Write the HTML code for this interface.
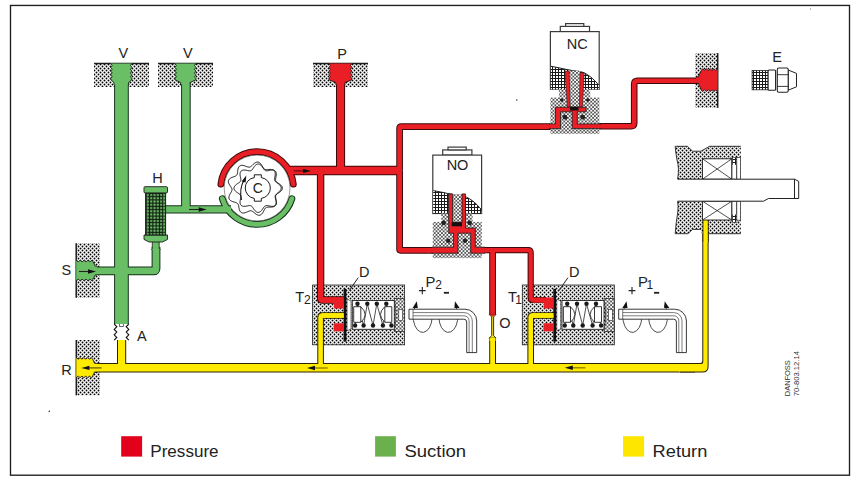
<!DOCTYPE html>
<html><head><meta charset="utf-8"><style>
html,body{margin:0;padding:0;background:#fff;width:851px;height:477px;overflow:hidden;}
svg{display:block;font-family:"Liberation Sans",sans-serif;}
</style></head><body>
<svg width="851" height="477" viewBox="0 0 851 477">
<defs>
<pattern id="chk" width="4" height="4" patternUnits="userSpaceOnUse">
 <rect width="4" height="4" fill="#fff"/><circle cx="0.5" cy="0.5" r="0.92" fill="#000"/><circle cx="2.5" cy="2.5" r="0.92" fill="#000"/><circle cx="4.5" cy="0.5" r="0.92" fill="#000"/><circle cx="0.5" cy="4.5" r="0.92" fill="#000"/><circle cx="4.5" cy="4.5" r="0.92" fill="#000"/>
</pattern>
<pattern id="dot" width="3.6" height="3.6" patternUnits="userSpaceOnUse">
 <rect width="3.6" height="3.6" fill="#fff"/><circle cx="0.9" cy="0.9" r="0.8" fill="#000"/><circle cx="2.7" cy="2.7" r="0.8" fill="#000"/>
</pattern>
<pattern id="grid" width="3" height="3" patternUnits="userSpaceOnUse">
 <rect width="3" height="3" fill="#1a1a1a"/><rect x="1" y="1" width="2" height="2" fill="#fff"/>
</pattern>
<pattern id="mesh" width="3.3" height="3.25" patternUnits="userSpaceOnUse" x="145.8" y="193">
 <rect width="3.3" height="3.25" fill="#0f1f0f"/><rect x="1.1" y="1.0" width="2.0" height="2.0" fill="#76c870"/>
</pattern>
</defs>
<rect width="851" height="477" fill="#fff"/>
<rect x="94" y="63.5" width="55" height="23.5" fill="url(#chk)"/>
<line x1="94" y1="63.5" x2="149" y2="63.5" stroke="#1c1c1c" stroke-width="1.5"/>
<rect x="158" y="63.5" width="55" height="23.5" fill="url(#chk)"/>
<line x1="158" y1="63.5" x2="213" y2="63.5" stroke="#1c1c1c" stroke-width="1.5"/>
<rect x="313" y="63.5" width="55" height="23.5" fill="url(#chk)"/>
<line x1="313" y1="63.5" x2="368" y2="63.5" stroke="#1c1c1c" stroke-width="1.5"/>
<rect x="76.2" y="243.2" width="23.799999999999997" height="54.5" fill="url(#chk)"/>
<line x1="76.2" y1="243.2" x2="76.2" y2="297.7" stroke="#1c1c1c" stroke-width="1.5"/>
<rect x="76.3" y="340" width="23.700000000000003" height="55.30000000000001" fill="url(#chk)"/>
<line x1="76.3" y1="340" x2="76.3" y2="395.3" stroke="#1c1c1c" stroke-width="1.5"/>
<rect x="695.1" y="53.1" width="22.600000000000023" height="54.699999999999996" fill="url(#chk)"/>
<line x1="717.7" y1="53.1" x2="717.7" y2="107.8" stroke="#1c1c1c" stroke-width="1.5"/>
<rect x="312.6" y="285" width="92" height="59.8" fill="url(#chk)" stroke="#222" stroke-width="0.8"/>
<rect x="522.3" y="285" width="92" height="59.8" fill="url(#chk)" stroke="#222" stroke-width="0.8"/>
<path d="M121.45,76.00 L121.45,324.00" fill="none" stroke="#14301a" stroke-width="14.7" stroke-linejoin="round" stroke-linecap="butt"/><path d="M185.90,76.00 L185.90,209.30" fill="none" stroke="#14301a" stroke-width="9.6" stroke-linejoin="round" stroke-linecap="butt"/><path d="M164.00,209.30 L231.00,209.30" fill="none" stroke="#14301a" stroke-width="8.2" stroke-linejoin="round" stroke-linecap="butt"/><path d="M92.00,270.90 L153.50,270.90 Q156.00,270.90 156.00,268.40 L156.00,247.00" fill="none" stroke="#14301a" stroke-width="8.8" stroke-linejoin="round" stroke-linecap="butt"/><path d="M291.91,198.64 A36.4,36.4 0 0,1 222.29,198.64" fill="none" stroke="#14301a" stroke-width="6.8" stroke-linejoin="round" stroke-linecap="round"/><path d="M220.90,184.20 A36.4,36.4 0 0,1 293.30,184.20" fill="none" stroke="#3c0a0a" stroke-width="6.8" stroke-linejoin="round" stroke-linecap="round"/><path d="M340.55,76.00 L340.55,170.70" fill="none" stroke="#3c0a0a" stroke-width="9.1" stroke-linejoin="round" stroke-linecap="butt"/><path d="M288.00,170.60 L399.60,170.60" fill="none" stroke="#3c0a0a" stroke-width="9.5" stroke-linejoin="round" stroke-linecap="butt"/><path d="M399.60,170.70 L399.60,128.55 Q399.60,126.55 401.60,126.55 L556.00,126.55" fill="none" stroke="#3c0a0a" stroke-width="6.7" stroke-linejoin="round" stroke-linecap="butt"/><path d="M399.60,170.70 L399.60,249.25 Q399.60,250.25 400.60,250.25 L455.00,250.25" fill="none" stroke="#3c0a0a" stroke-width="6.75" stroke-linejoin="round" stroke-linecap="butt"/><path d="M320.60,170.70 L320.60,298.50 Q320.60,300.00 322.10,300.00 L345.00,300.00" fill="none" stroke="#3c0a0a" stroke-width="7.4" stroke-linejoin="round" stroke-linecap="butt"/><path d="M596.00,126.20 L631.00,126.20 Q634.20,126.20 634.20,123.00 L634.20,84.00 Q634.20,80.80 637.40,80.80 L699.00,80.80" fill="none" stroke="#3c0a0a" stroke-width="6.6" stroke-linejoin="round" stroke-linecap="butt"/><path d="M474.00,250.20 L528.20,250.20 Q530.70,250.20 530.70,252.70 L530.70,297.50 Q530.70,300.00 533.20,300.00 L546.00,300.00" fill="none" stroke="#3c0a0a" stroke-width="6.2" stroke-linejoin="round" stroke-linecap="butt"/><path d="M492.60,250.20 L492.60,314.50" fill="none" stroke="#3c0a0a" stroke-width="6.8" stroke-linejoin="round" stroke-linecap="butt"/><path d="M94.00,367.75 L695.00,367.75" fill="none" stroke="#2a2400" stroke-width="9.3" stroke-linejoin="round" stroke-linecap="butt"/><path d="M121.60,339.00 L121.60,367.70" fill="none" stroke="#2a2400" stroke-width="9.2" stroke-linejoin="round" stroke-linecap="butt"/><path d="M345.00,315.50 L322.60,315.50 Q320.60,315.50 320.60,317.50 L320.60,367.70" fill="none" stroke="#2a2400" stroke-width="6.6" stroke-linejoin="round" stroke-linecap="butt"/><path d="M555.00,315.50 L532.70,315.50 Q530.70,315.50 530.70,317.50 L530.70,367.70" fill="none" stroke="#2a2400" stroke-width="6.6" stroke-linejoin="round" stroke-linecap="butt"/><path d="M492.60,338.00 L492.60,367.70" fill="none" stroke="#2a2400" stroke-width="6.8" stroke-linejoin="round" stroke-linecap="butt"/>
<path d="M121.45,76.00 L121.45,324.00" fill="none" stroke="#6abf66" stroke-width="12.7" stroke-linejoin="round" stroke-linecap="butt"/><path d="M185.90,76.00 L185.90,209.30" fill="none" stroke="#6abf66" stroke-width="7.6" stroke-linejoin="round" stroke-linecap="butt"/><path d="M164.00,209.30 L231.00,209.30" fill="none" stroke="#6abf66" stroke-width="6.2" stroke-linejoin="round" stroke-linecap="butt"/><path d="M92.00,270.90 L153.50,270.90 Q156.00,270.90 156.00,268.40 L156.00,247.00" fill="none" stroke="#6abf66" stroke-width="6.8" stroke-linejoin="round" stroke-linecap="butt"/><path d="M291.91,198.64 A36.4,36.4 0 0,1 222.29,198.64" fill="none" stroke="#6abf66" stroke-width="4.8" stroke-linejoin="round" stroke-linecap="round"/><path d="M220.90,184.20 A36.4,36.4 0 0,1 293.30,184.20" fill="none" stroke="#ea1f26" stroke-width="4.8" stroke-linejoin="round" stroke-linecap="round"/><path d="M340.55,76.00 L340.55,170.70" fill="none" stroke="#ea1f26" stroke-width="7.1" stroke-linejoin="round" stroke-linecap="butt"/><path d="M288.00,170.60 L399.60,170.60" fill="none" stroke="#ea1f26" stroke-width="7.5" stroke-linejoin="round" stroke-linecap="butt"/><path d="M399.60,170.70 L399.60,128.55 Q399.60,126.55 401.60,126.55 L556.00,126.55" fill="none" stroke="#ea1f26" stroke-width="4.7" stroke-linejoin="round" stroke-linecap="butt"/><path d="M399.60,170.70 L399.60,249.25 Q399.60,250.25 400.60,250.25 L455.00,250.25" fill="none" stroke="#ea1f26" stroke-width="4.75" stroke-linejoin="round" stroke-linecap="butt"/><path d="M320.60,170.70 L320.60,298.50 Q320.60,300.00 322.10,300.00 L345.00,300.00" fill="none" stroke="#ea1f26" stroke-width="5.4" stroke-linejoin="round" stroke-linecap="butt"/><path d="M596.00,126.20 L631.00,126.20 Q634.20,126.20 634.20,123.00 L634.20,84.00 Q634.20,80.80 637.40,80.80 L699.00,80.80" fill="none" stroke="#ea1f26" stroke-width="4.6" stroke-linejoin="round" stroke-linecap="butt"/><path d="M474.00,250.20 L528.20,250.20 Q530.70,250.20 530.70,252.70 L530.70,297.50 Q530.70,300.00 533.20,300.00 L546.00,300.00" fill="none" stroke="#ea1f26" stroke-width="4.2" stroke-linejoin="round" stroke-linecap="butt"/><path d="M492.60,250.20 L492.60,314.50" fill="none" stroke="#ea1f26" stroke-width="4.8" stroke-linejoin="round" stroke-linecap="butt"/><path d="M94.00,367.75 L695.00,367.75" fill="none" stroke="#ffeb00" stroke-width="7.3" stroke-linejoin="round" stroke-linecap="butt"/><path d="M121.60,339.00 L121.60,367.70" fill="none" stroke="#ffeb00" stroke-width="7.2" stroke-linejoin="round" stroke-linecap="butt"/><path d="M345.00,315.50 L322.60,315.50 Q320.60,315.50 320.60,317.50 L320.60,367.70" fill="none" stroke="#ffeb00" stroke-width="4.6" stroke-linejoin="round" stroke-linecap="butt"/><path d="M555.00,315.50 L532.70,315.50 Q530.70,315.50 530.70,317.50 L530.70,367.70" fill="none" stroke="#ffeb00" stroke-width="4.6" stroke-linejoin="round" stroke-linecap="butt"/><path d="M492.60,338.00 L492.60,367.70" fill="none" stroke="#ffeb00" stroke-width="4.8" stroke-linejoin="round" stroke-linecap="butt"/>
<path d="M680,363.1 H700.3 Q702.3,363.1 702.3,361.1 V221 H708.6 V366.4 Q708.6,372.4 702.6,372.4 H680 Z" fill="#2a2400"/>
<path d="M679,364.1 H701.3 Q703.3,364.1 703.3,362.1 V220 H707.6 V366.4 Q707.6,371.4 702.6,371.4 H679 Z" fill="#ffeb00"/>
<path d="M110.60,63.60 L112.20,65.46 L110.60,67.33 L112.20,69.19 L110.60,71.05 L112.20,72.91 L110.60,74.78 L112.20,76.64 L110.60,78.50 L111.10,80.00 L113.95,82.50 L113.95,84.50 L128.65,84.50 L128.65,82.50 L131.50,80.00 L132.00,78.50 L130.40,76.64 L132.00,74.78 L130.40,72.91 L132.00,71.05 L130.40,69.19 L132.00,67.33 L130.40,65.46 L132.00,63.60 Z" fill="#6abf66"/>
<path d="M110.60,63.60 L112.20,65.46 L110.60,67.33 L112.20,69.19 L110.60,71.05 L112.20,72.91 L110.60,74.78 L112.20,76.64 L110.60,78.50 L111.10,80.00 L113.95,82.50 L113.95,84.50 M128.65,84.50 L128.65,82.50 L131.50,80.00 L132.00,78.50 L130.40,76.64 L132.00,74.78 L130.40,72.91 L132.00,71.05 L130.40,69.19 L132.00,67.33 L130.40,65.46 L132.00,63.60" fill="none" stroke="#1c1c1c" stroke-width="0.9"/>
<path d="M174.80,63.60 L176.40,65.46 L174.80,67.33 L176.40,69.19 L174.80,71.05 L176.40,72.91 L174.80,74.78 L176.40,76.64 L174.80,78.50 L175.30,80.00 L180.70,82.50 L180.70,84.50 L190.10,84.50 L190.10,82.50 L195.50,80.00 L196.00,78.50 L194.40,76.64 L196.00,74.78 L194.40,72.91 L196.00,71.05 L194.40,69.19 L196.00,67.33 L194.40,65.46 L196.00,63.60 Z" fill="#6abf66"/>
<path d="M174.80,63.60 L176.40,65.46 L174.80,67.33 L176.40,69.19 L174.80,71.05 L176.40,72.91 L174.80,74.78 L176.40,76.64 L174.80,78.50 L175.30,80.00 L180.70,82.50 L180.70,84.50 M190.10,84.50 L190.10,82.50 L195.50,80.00 L196.00,78.50 L194.40,76.64 L196.00,74.78 L194.40,72.91 L196.00,71.05 L194.40,69.19 L196.00,67.33 L194.40,65.46 L196.00,63.60" fill="none" stroke="#1c1c1c" stroke-width="0.9"/>
<path d="M328.80,63.60 L330.40,65.46 L328.80,67.33 L330.40,69.19 L328.80,71.05 L330.40,72.91 L328.80,74.78 L330.40,76.64 L328.80,78.50 L329.30,80.00 L335.85,82.50 L335.85,84.50 L344.95,84.50 L344.95,82.50 L351.50,80.00 L352.00,78.50 L350.40,76.64 L352.00,74.78 L350.40,72.91 L352.00,71.05 L350.40,69.19 L352.00,67.33 L350.40,65.46 L352.00,63.60 Z" fill="#ea1f26"/>
<path d="M328.80,63.60 L330.40,65.46 L328.80,67.33 L330.40,69.19 L328.80,71.05 L330.40,72.91 L328.80,74.78 L330.40,76.64 L328.80,78.50 L329.30,80.00 L335.85,82.50 L335.85,84.50 M344.95,84.50 L344.95,82.50 L351.50,80.00 L352.00,78.50 L350.40,76.64 L352.00,74.78 L350.40,72.91 L352.00,71.05 L350.40,69.19 L352.00,67.33 L350.40,65.46 L352.00,63.60" fill="none" stroke="#1c1c1c" stroke-width="0.9"/>
<path d="M76.20,260.25 L78.15,261.85 L80.10,260.25 L82.05,261.85 L84.00,260.25 L85.95,261.85 L87.90,260.25 L89.85,261.85 L91.80,260.25 L93.00,261.75 L95.20,266.10 L97.20,266.10 L97.20,274.90 L95.20,274.90 L93.00,279.25 L91.80,280.75 L89.85,279.15 L87.90,280.75 L85.95,279.15 L84.00,280.75 L82.05,279.15 L80.10,280.75 L78.15,279.15 L76.20,280.75 Z" fill="#6abf66"/>
<path d="M76.20,260.25 L78.15,261.85 L80.10,260.25 L82.05,261.85 L84.00,260.25 L85.95,261.85 L87.90,260.25 L89.85,261.85 L91.80,260.25 L93.00,261.75 L95.20,266.10 L97.20,266.10 M97.20,274.90 L95.20,274.90 L93.00,279.25 L91.80,280.75 L89.85,279.15 L87.90,280.75 L85.95,279.15 L84.00,280.75 L82.05,279.15 L80.10,280.75 L78.15,279.15 L76.20,280.75" fill="none" stroke="#1c1c1c" stroke-width="0.9"/>
<path d="M76.30,357.60 L78.19,359.20 L80.08,357.60 L81.96,359.20 L83.85,357.60 L85.74,359.20 L87.62,357.60 L89.51,359.20 L91.40,357.60 L92.60,359.10 L94.50,363.25 L96.50,363.25 L96.50,372.05 L94.50,372.05 L92.60,376.20 L91.40,377.70 L89.51,376.10 L87.62,377.70 L85.74,376.10 L83.85,377.70 L81.96,376.10 L80.08,377.70 L78.19,376.10 L76.30,377.70 Z" fill="#ffeb00"/>
<path d="M76.30,357.60 L78.19,359.20 L80.08,357.60 L81.96,359.20 L83.85,357.60 L85.74,359.20 L87.62,357.60 L89.51,359.20 L91.40,357.60 L92.60,359.10 L94.50,363.25 L96.50,363.25 M96.50,372.05 L94.50,372.05 L92.60,376.20 L91.40,377.70 L89.51,376.10 L87.62,377.70 L85.74,376.10 L83.85,377.70 L81.96,376.10 L80.08,377.70 L78.19,376.10 L76.30,377.70" fill="none" stroke="#1c1c1c" stroke-width="0.9"/>
<path d="M717.70,68.75 L715.81,70.35 L713.93,68.75 L712.04,70.35 L710.15,68.75 L708.26,70.35 L706.38,68.75 L704.49,70.35 L702.60,68.75 L701.40,70.25 L698.20,76.90 L696.20,76.90 L696.20,83.30 L698.20,83.30 L701.40,89.95 L702.60,91.45 L704.49,89.85 L706.38,91.45 L708.26,89.85 L710.15,91.45 L712.04,89.85 L713.93,91.45 L715.81,89.85 L717.70,91.45 Z" fill="#ea1f26"/>
<path d="M717.70,68.75 L715.81,70.35 L713.93,68.75 L712.04,70.35 L710.15,68.75 L708.26,70.35 L706.38,68.75 L704.49,70.35 L702.60,68.75 L701.40,70.25 L698.20,76.90 L696.20,76.90 M696.20,83.30 L698.20,83.30 L701.40,89.95 L702.60,91.45 L704.49,89.85 L706.38,91.45 L708.26,89.85 L710.15,91.45 L712.04,89.85 L713.93,91.45 L715.81,89.85 L717.70,91.45" fill="none" stroke="#1c1c1c" stroke-width="0.9"/>
<path d="M152.3,241 H159.2 V248.5 L160.4,250 H151.6 L152.3,248.5 Z" fill="#6abf66"/>
<path d="M152.3,241 V248.5 L151.6,250 M159.2,241 V248.5 L160.4,250" fill="none" stroke="#1c1c1c" stroke-width="0.8"/>
<path d="M144,235 H167.5 V239.4 L162.5,242 H149 L144,239.4 Z" fill="#6abf66" stroke="#1c1c1c" stroke-width="0.9"/>
<rect x="145.6" y="192.9" width="20" height="42.1" fill="url(#mesh)" stroke="#1c1c1c" stroke-width="1"/>
<path d="M147.3,193 V235 M163.9,193 V235" stroke="#5aa055" stroke-width="0.6"/>
<rect x="144" y="186.7" width="23.5" height="6.2" rx="1" fill="#6abf66" stroke="#1c1c1c" stroke-width="0.9"/>
<circle cx="257.1" cy="188" r="32.9" fill="none" stroke="#555" stroke-width="0.6"/>
<path d="M281.09,188.80 L280.85,189.50 L280.48,190.18 L280.00,190.83 L279.43,191.45 L278.81,192.04 L278.16,192.59 L277.52,193.12 L276.91,193.63 L276.37,194.12 L275.91,194.62 L275.56,195.13 L275.31,195.66 L275.18,196.23 L275.16,196.84 L275.22,197.51 L275.36,198.22 L275.55,198.98 L275.75,199.78 L275.95,200.61 L276.12,201.45 L276.22,202.29 L276.23,203.11 L276.15,203.88 L275.94,204.59 L275.61,205.23 L275.16,205.78 L274.60,206.22 L273.94,206.57 L273.19,206.82 L272.39,206.99 L271.54,207.07 L270.68,207.11 L269.83,207.11 L269.01,207.09 L268.24,207.10 L267.53,207.15 L266.89,207.26 L266.31,207.45 L265.80,207.73 L265.35,208.12 L264.95,208.61 L264.59,209.19 L264.24,209.85 L263.89,210.57 L263.53,211.32 L263.14,212.09 L262.71,212.83 L262.23,213.51 L261.70,214.12 L261.12,214.61 L260.49,214.98 L259.81,215.21 L259.11,215.29 L258.39,215.22 L257.65,215.02 L256.92,214.70 L256.20,214.27 L255.51,213.77 L254.84,213.24 L254.20,212.69 L253.59,212.17 L253.00,211.70 L252.43,211.30 L251.87,211.01 L251.30,210.82 L250.72,210.75 L250.12,210.80 L249.49,210.94 L248.83,211.18 L248.12,211.48 L247.38,211.82 L246.61,212.16 L245.81,212.49 L245.00,212.75 L244.20,212.94 L243.41,213.03 L242.66,212.99 L241.96,212.83 L241.32,212.52 L240.75,212.09 L240.27,211.53 L239.86,210.87 L239.54,210.13 L239.29,209.33 L239.09,208.49 L238.93,207.65 L238.80,206.83 L238.66,206.05 L238.51,205.34 L238.31,204.69 L238.04,204.13 L237.70,203.65 L237.27,203.26 L236.76,202.93 L236.15,202.65 L235.46,202.41 L234.71,202.20 L233.91,201.98 L233.09,201.73 L232.28,201.45 L231.50,201.12 L230.79,200.73 L230.17,200.26 L229.65,199.73 L229.26,199.13 L229.02,198.47 L228.91,197.76 L228.94,197.01 L229.09,196.24 L229.36,195.46 L229.70,194.68 L230.10,193.92 L230.53,193.19 L230.95,192.48 L231.33,191.81 L231.65,191.17 L231.87,190.56 L232.00,189.96 L232.00,189.38 L231.89,188.80 L231.67,188.21 L231.35,187.60 L230.95,186.97 L230.50,186.31 L230.03,185.62 L229.57,184.90 L229.14,184.16 L228.78,183.40 L228.53,182.64 L228.39,181.88 L228.38,181.15 L228.52,180.46 L228.80,179.81 L229.22,179.21 L229.77,178.68 L230.41,178.21 L231.14,177.80 L231.92,177.45 L232.72,177.14 L233.51,176.85 L234.27,176.59 L234.97,176.31 L235.60,176.02 L236.14,175.68 L236.58,175.28 L236.93,174.81 L237.19,174.27 L237.38,173.65 L237.51,172.96 L237.60,172.20 L237.67,171.39 L237.76,170.54 L237.88,169.69 L238.05,168.86 L238.29,168.07 L238.61,167.34 L239.02,166.71 L239.51,166.19 L240.10,165.78 L240.75,165.51 L241.48,165.37 L242.25,165.35 L243.06,165.44 L243.88,165.62 L244.70,165.87 L245.51,166.15 L246.28,166.45 L247.03,166.72 L247.73,166.94 L248.38,167.09 L249.00,167.14 L249.58,167.08 L250.14,166.91 L250.69,166.63 L251.23,166.24 L251.78,165.76 L252.34,165.22 L252.93,164.64 L253.55,164.05 L254.20,163.49 L254.88,162.98 L255.58,162.56 L256.29,162.25 L257.01,162.08 L257.72,162.04 L258.42,162.16 L259.09,162.42 L259.72,162.82 L260.31,163.34 L260.86,163.96 L261.36,164.64 L261.81,165.37 L262.24,166.11 L262.64,166.82 L263.03,167.49 L263.42,168.08 L263.84,168.59 L264.29,168.99 L264.80,169.29 L265.35,169.48 L265.98,169.58 L266.66,169.61 L267.41,169.58 L268.20,169.52 L269.04,169.46 L269.90,169.42 L270.75,169.42 L271.59,169.49 L272.37,169.65 L273.10,169.90 L273.73,170.27 L274.26,170.73 L274.69,171.30 L274.99,171.96 L275.18,172.70 L275.27,173.50 L275.26,174.33 L275.17,175.18 L275.04,176.03 L274.89,176.85 L274.74,177.65 L274.63,178.39 L274.57,179.08 L274.60,179.72 L274.72,180.30 L274.95,180.84 L275.29,181.33 L275.73,181.80 L276.27,182.26 L276.88,182.72 L277.54,183.20 L278.23,183.69 L278.91,184.22 L279.54,184.79 L280.11,185.39 L280.58,186.03 L280.92,186.70 L281.13,187.39 L281.19,188.09 Z" fill="none" stroke="#111" stroke-width="0.95"/>
<path d="M282.40,188.20 L282.33,188.83 L282.14,189.45 L281.83,190.06 L281.41,190.64 L280.90,191.19 L280.33,191.70 L279.71,192.19 L279.06,192.63 L278.42,193.05 L277.81,193.45 L277.24,193.84 L276.74,194.22 L276.32,194.62 L275.99,195.03 L275.75,195.47 L275.61,195.95 L275.55,196.48 L275.57,197.05 L275.65,197.68 L275.78,198.35 L275.93,199.07 L276.09,199.82 L276.23,200.59 L276.32,201.37 L276.37,202.14 L276.34,202.89 L276.22,203.59 L276.02,204.24 L275.71,204.82 L275.31,205.31 L274.82,205.71 L274.24,206.02 L273.59,206.22 L272.89,206.34 L272.14,206.37 L271.37,206.32 L270.59,206.23 L269.82,206.09 L269.07,205.93 L268.35,205.78 L267.68,205.65 L267.05,205.57 L266.48,205.55 L265.95,205.61 L265.47,205.75 L265.03,205.99 L264.62,206.32 L264.22,206.74 L263.84,207.24 L263.45,207.81 L263.05,208.42 L262.63,209.06 L262.19,209.71 L261.70,210.33 L261.19,210.90 L260.64,211.41 L260.06,211.83 L259.45,212.14 L258.83,212.33 L258.20,212.40 L257.57,212.33 L256.95,212.14 L256.34,211.83 L255.76,211.41 L255.21,210.90 L254.70,210.33 L254.21,209.71 L253.77,209.06 L253.35,208.42 L252.95,207.81 L252.56,207.24 L252.18,206.74 L251.78,206.32 L251.37,205.99 L250.93,205.75 L250.45,205.61 L249.92,205.55 L249.35,205.57 L248.72,205.65 L248.05,205.78 L247.33,205.93 L246.58,206.09 L245.81,206.23 L245.03,206.32 L244.26,206.37 L243.51,206.34 L242.81,206.22 L242.16,206.02 L241.58,205.71 L241.09,205.31 L240.69,204.82 L240.38,204.24 L240.18,203.59 L240.06,202.89 L240.03,202.14 L240.08,201.37 L240.17,200.59 L240.31,199.82 L240.47,199.07 L240.62,198.35 L240.75,197.68 L240.83,197.05 L240.85,196.48 L240.79,195.95 L240.65,195.47 L240.41,195.03 L240.08,194.62 L239.66,194.22 L239.16,193.84 L238.59,193.45 L237.98,193.05 L237.34,192.63 L236.69,192.19 L236.07,191.70 L235.50,191.19 L234.99,190.64 L234.57,190.06 L234.26,189.45 L234.07,188.83 L234.00,188.20 L234.07,187.57 L234.26,186.95 L234.57,186.34 L234.99,185.76 L235.50,185.21 L236.07,184.70 L236.69,184.21 L237.34,183.77 L237.98,183.35 L238.59,182.95 L239.16,182.56 L239.66,182.18 L240.08,181.78 L240.41,181.37 L240.65,180.93 L240.79,180.45 L240.85,179.92 L240.83,179.35 L240.75,178.72 L240.62,178.05 L240.47,177.33 L240.31,176.58 L240.17,175.81 L240.08,175.03 L240.03,174.26 L240.06,173.51 L240.18,172.81 L240.38,172.16 L240.69,171.58 L241.09,171.09 L241.58,170.69 L242.16,170.38 L242.81,170.18 L243.51,170.06 L244.26,170.03 L245.03,170.08 L245.81,170.17 L246.58,170.31 L247.33,170.47 L248.05,170.62 L248.72,170.75 L249.35,170.83 L249.92,170.85 L250.45,170.79 L250.93,170.65 L251.37,170.41 L251.78,170.08 L252.18,169.66 L252.56,169.16 L252.95,168.59 L253.35,167.98 L253.77,167.34 L254.21,166.69 L254.70,166.07 L255.21,165.50 L255.76,164.99 L256.34,164.57 L256.95,164.26 L257.57,164.07 L258.20,164.00 L258.83,164.07 L259.45,164.26 L260.06,164.57 L260.64,164.99 L261.19,165.50 L261.70,166.07 L262.19,166.69 L262.63,167.34 L263.05,167.98 L263.45,168.59 L263.84,169.16 L264.22,169.66 L264.62,170.08 L265.03,170.41 L265.47,170.65 L265.95,170.79 L266.48,170.85 L267.05,170.83 L267.68,170.75 L268.35,170.62 L269.07,170.47 L269.82,170.31 L270.59,170.17 L271.37,170.08 L272.14,170.03 L272.89,170.06 L273.59,170.18 L274.24,170.38 L274.82,170.69 L275.31,171.09 L275.71,171.58 L276.02,172.16 L276.22,172.81 L276.34,173.51 L276.37,174.26 L276.32,175.03 L276.23,175.81 L276.09,176.58 L275.93,177.33 L275.78,178.05 L275.65,178.72 L275.57,179.35 L275.55,179.92 L275.61,180.45 L275.75,180.93 L275.99,181.37 L276.32,181.78 L276.74,182.18 L277.24,182.56 L277.81,182.95 L278.42,183.35 L279.06,183.77 L279.71,184.21 L280.33,184.70 L280.90,185.21 L281.41,185.76 L281.83,186.34 L282.14,186.95 L282.33,187.57 Z" fill="none" stroke="#111" stroke-width="0.95"/>
<path d="M254.3,177.6 V174.8 H261.3 V177.6 A10.5,10.5 0 0 1 261.3,198.4 V201.2 H254.3 V198.4 A10.5,10.5 0 0 1 254.3,177.6 Z" fill="#fff" stroke="#111" stroke-width="0.95"/>
<path d="M241.5,200 Q239,189 244,180" fill="none" stroke="#111" stroke-width="1.1"/>
<path d="M246.3,175.5 L241.6,181.5 L245.6,182.5 Z" fill="#111"/>
<text x="257.8" y="193" font-size="14" text-anchor="middle" fill="#222" >C</text>
<rect x="560.3" y="26.400000000000002" width="29.2" height="5.2" fill="#fff" stroke="#3a3a3a" stroke-width="1.2"/><rect x="565.6" y="23.6" width="18.2" height="2.8" fill="#fff" stroke="#3a3a3a" stroke-width="1.2"/><rect x="550.4" y="31.6" width="48.8" height="57.6" fill="#fff" stroke="#3a3a3a" stroke-width="1.2"/><path d="M550.9,66.3 C560.4,67.8 570.4,70.8 578.4,71.3 C586.4,71.8 594.4,79.8 598.9,85.3 V89.2 H550.9 Z" fill="url(#grid)"/><path d="M550.9,66.3 C560.4,67.8 570.4,70.8 578.4,71.3 C586.4,71.8 594.4,79.8 598.9,85.3" fill="none" stroke="#222" stroke-width="1"/><rect x="558.9" y="89.2" width="31.3" height="8.4" fill="url(#dot)"/><rect x="550.4" y="97.6" width="49" height="36.2" fill="url(#dot)"/>
<rect x="568.4" y="70.8" width="12" height="37" fill="url(#dot)"/><path d="M565.0,71.0 L569.1999999999999,71.0 L570.1999999999999,107.39999999999999 L567.3,107.39999999999999 Z" fill="#ea1f26" stroke="#1c1c1c" stroke-width="0.6"/><path d="M580.0,72.7 L584.1999999999999,72.7 L582.3,107.39999999999999 L579.4,107.39999999999999 Z" fill="#ea1f26" stroke="#1c1c1c" stroke-width="0.6"/><path d="M549.4,123.89999999999999 H555.5 V107.2 H586.1 V111.8 H577.3 V123.89999999999999 H600.4 V128.6 H572.1999999999999 V111.8 H560.5 V128.6 H549.4 Z" fill="#ea1f26" stroke="#1c1c1c" stroke-width="0.8"/><rect x="570.1" y="106.7" width="8.4" height="3.8" fill="#111"/><circle cx="565.0" cy="117.2" r="2.4" fill="#222"/><circle cx="582.6999999999999" cy="117.2" r="2.4" fill="#222"/><circle cx="561.6999999999999" cy="100.0" r="1.8" fill="#222"/><circle cx="587.8" cy="100.0" r="1.8" fill="#222"/>
<rect x="442.7" y="149.9" width="29.2" height="5.2" fill="#fff" stroke="#3a3a3a" stroke-width="1.2"/><rect x="448.0" y="147.1" width="18.2" height="2.8" fill="#fff" stroke="#3a3a3a" stroke-width="1.2"/><rect x="432.8" y="155.1" width="48.8" height="58.4" fill="#fff" stroke="#3a3a3a" stroke-width="1.2"/><path d="M433.3,190.6 C442.8,192.1 452.8,195.1 460.8,195.6 C468.8,196.1 476.8,204.1 481.3,209.6 V213.5 H433.3 Z" fill="url(#grid)"/><path d="M433.3,190.6 C442.8,192.1 452.8,195.1 460.8,195.6 C468.8,196.1 476.8,204.1 481.3,209.6" fill="none" stroke="#222" stroke-width="1"/><rect x="441.3" y="213.5" width="31.3" height="8.4" fill="url(#dot)"/><rect x="432.8" y="221.89999999999998" width="49" height="36.2" fill="url(#dot)"/>
<rect x="449.8" y="194.1" width="14" height="30" fill="url(#dot)"/><path d="M448.40000000000003,193.89999999999998 H452.6 V222.3 H462.0 V193.89999999999998 H465.5 V228.0 H475.3 V247.2 H484.8 V253.2 H470.7 V233.2 H458.0 V253.2 H431.8 V247.2 H453.40000000000003 V233.2 H448.8 Z" fill="#ea1f26" stroke="#1c1c1c" stroke-width="0.8"/><rect x="451.7" y="222.3" width="10.3" height="4" fill="#111"/><circle cx="443.6" cy="222.89999999999998" r="2.4" fill="#222"/><circle cx="469.6" cy="222.89999999999998" r="2.4" fill="#222"/><circle cx="448.2" cy="240.7" r="2.2" fill="#222"/><circle cx="465.0" cy="240.7" r="2.2" fill="#222"/>
<rect x="544" y="124.7" width="10" height="3.2" fill="#ea1f26"/><rect x="595" y="124.7" width="10" height="3.2" fill="#ea1f26"/>
<rect x="427" y="248.0" width="10" height="4.4" fill="#ea1f26"/><rect x="477" y="248.0" width="10" height="4.4" fill="#ea1f26"/>
<text x="577.3" y="49.4" font-size="14.5" text-anchor="middle" fill="#222" >NC</text>
<text x="457.5" y="169.9" font-size="14.5" text-anchor="middle" fill="#222" >NO</text>
<rect x="352.3" y="300.5" width="42" height="28.8" fill="#fff" stroke="#222" stroke-width="0.9"/><path d="M394.3,298.5 H404.6 V331.5 H394.3 Q397.5,315 394.3,298.5 Z" fill="url(#dot)" stroke="#222" stroke-width="0.7"/><rect x="398.8" y="309.5" width="3.8" height="11" fill="#fff" stroke="#222" stroke-width="0.6"/><path d="M355.10,325.50 L357.50,303.80 L363.60,325.50 L367.30,303.80 L373.00,325.50 L376.80,303.80 L382.90,325.50 L386.30,303.80 L391.40,325.50" fill="none" stroke="#222" stroke-width="0.8"/><path d="M353.7,306.7 H360.8 Q369.5,314.5 360.8,322.3 H353.7 Z M360.8,306.7 V322.3" fill="#fff" stroke="#222" stroke-width="0.9"/><path d="M391.8,306.7 H384.8 Q376.1,314.5 384.8,322.3 H391.8 Z M384.8,306.7 V322.3" fill="#fff" stroke="#222" stroke-width="0.9"/><circle cx="357.5" cy="303.8" r="2.2" fill="#1a1a1a"/><circle cx="367.3" cy="303.8" r="2.2" fill="#1a1a1a"/><circle cx="376.8" cy="303.8" r="2.2" fill="#1a1a1a"/><circle cx="386.3" cy="303.8" r="2.2" fill="#1a1a1a"/><circle cx="355.1" cy="325.5" r="2.2" fill="#1a1a1a"/><circle cx="363.6" cy="325.5" r="2.2" fill="#1a1a1a"/><circle cx="373" cy="325.5" r="2.2" fill="#1a1a1a"/><circle cx="382.9" cy="325.5" r="2.2" fill="#1a1a1a"/><circle cx="391.4" cy="325.5" r="2.2" fill="#1a1a1a"/><path d="M347.1,299 L351,301 V328.8 L347.1,330.7 Z" fill="#fff" stroke="#222" stroke-width="0.6"/><rect x="343.6" y="288.8" width="2.8" height="52.8" fill="#111"/><path d="M323,297.4 H343.8 V308.4 H334 V302.7 H323 Z" fill="#ea1f26"/><rect x="333.8" y="323.3" width="10.2" height="8" fill="#ea1f26"/><rect x="322" y="313.2" width="21.8" height="4.6" fill="#ffeb00"/><line x1="358.3" y1="277.6" x2="349.3" y2="290.5" stroke="#222" stroke-width="1"/><path d="M416,305 A9.5,16 0 1 0 431.8,312" fill="none" stroke="#222" stroke-width="0.8"/><path d="M455,305 A9.5,16 0 1 1 439.2,312" fill="none" stroke="#222" stroke-width="0.8"/><path d="M416.8,301.2 L412.6,308 L417.8,308 Z" fill="#111"/><path d="M455,301.2 L459.6,308 L454.4,308 Z" fill="#111"/><path d="M409,309.2 H465 A11.7,11.7 0 0 1 476.7,321 V352.6 H466.7 V322 A2.8,2.8 0 0 0 463.9,319.2 H409 Z" fill="#fff" stroke="#222" stroke-width="0.9"/><path d="M413,312.6 H464 A8.2,8.2 0 0 1 472.3,321 V352.6 M413,315.8 H464 A5,5 0 0 1 469.1,321 V352.6 M413,309.2 V319.2" fill="none" stroke="#222" stroke-width="0.6"/>
<rect x="562.0" y="300.5" width="42" height="28.8" fill="#fff" stroke="#222" stroke-width="0.9"/><path d="M604.0,298.5 H614.3 V331.5 H604.0 Q607.2,315 604.0,298.5 Z" fill="url(#dot)" stroke="#222" stroke-width="0.7"/><rect x="608.5" y="309.5" width="3.8" height="11" fill="#fff" stroke="#222" stroke-width="0.6"/><path d="M564.80,325.50 L567.20,303.80 L573.30,325.50 L577.00,303.80 L582.70,325.50 L586.50,303.80 L592.60,325.50 L596.00,303.80 L601.10,325.50" fill="none" stroke="#222" stroke-width="0.8"/><path d="M563.4,306.7 H570.5 Q579.2,314.5 570.5,322.3 H563.4 Z M570.5,306.7 V322.3" fill="#fff" stroke="#222" stroke-width="0.9"/><path d="M601.5,306.7 H594.5 Q585.8,314.5 594.5,322.3 H601.5 Z M594.5,306.7 V322.3" fill="#fff" stroke="#222" stroke-width="0.9"/><circle cx="567.2" cy="303.8" r="2.2" fill="#1a1a1a"/><circle cx="577.0" cy="303.8" r="2.2" fill="#1a1a1a"/><circle cx="586.5" cy="303.8" r="2.2" fill="#1a1a1a"/><circle cx="596.0" cy="303.8" r="2.2" fill="#1a1a1a"/><circle cx="564.8" cy="325.5" r="2.2" fill="#1a1a1a"/><circle cx="573.3" cy="325.5" r="2.2" fill="#1a1a1a"/><circle cx="582.7" cy="325.5" r="2.2" fill="#1a1a1a"/><circle cx="592.5999999999999" cy="325.5" r="2.2" fill="#1a1a1a"/><circle cx="601.0999999999999" cy="325.5" r="2.2" fill="#1a1a1a"/><path d="M556.8,299 L560.7,301 V328.8 L556.8,330.7 Z" fill="#fff" stroke="#222" stroke-width="0.6"/><rect x="553.3" y="288.8" width="2.8" height="52.8" fill="#111"/><path d="M532.7,297.4 H553.5 V308.4 H543.7 V302.7 H532.7 Z" fill="#ea1f26"/><rect x="543.5" y="323.3" width="10.2" height="8" fill="#ea1f26"/><rect x="531.7" y="313.2" width="21.8" height="4.6" fill="#ffeb00"/><line x1="568.0" y1="277.6" x2="559.0" y2="290.5" stroke="#222" stroke-width="1"/><path d="M625.7,305 A9.5,16 0 1 0 641.5,312" fill="none" stroke="#222" stroke-width="0.8"/><path d="M664.7,305 A9.5,16 0 1 1 648.9,312" fill="none" stroke="#222" stroke-width="0.8"/><path d="M626.5,301.2 L622.3,308 L627.5,308 Z" fill="#111"/><path d="M664.7,301.2 L669.3,308 L664.0999999999999,308 Z" fill="#111"/><path d="M618.7,309.2 H674.7 A11.7,11.7 0 0 1 686.4,321 V352.6 H676.4 V322 A2.8,2.8 0 0 0 673.5999999999999,319.2 H618.7 Z" fill="#fff" stroke="#222" stroke-width="0.9"/><path d="M622.7,312.6 H673.7 A8.2,8.2 0 0 1 682.0,321 V352.6 M622.7,315.8 H673.7 A5,5 0 0 1 678.8,321 V352.6 M622.7,309.2 V319.2" fill="none" stroke="#222" stroke-width="0.6"/>
<text x="123.3" y="57.6" font-size="14.5" text-anchor="middle" fill="#222" >V</text>
<text x="187.8" y="57.6" font-size="14.5" text-anchor="middle" fill="#222" >V</text>
<text x="342" y="59" font-size="14.5" text-anchor="middle" fill="#222" >P</text>
<text x="157.6" y="182.9" font-size="14.5" text-anchor="middle" fill="#222" >H</text>
<text x="66.3" y="275.2" font-size="14.5" text-anchor="middle" fill="#222" >S</text>
<text x="141.8" y="341.4" font-size="14.5" text-anchor="middle" fill="#222" >A</text>
<text x="66.6" y="375.2" font-size="14.5" text-anchor="middle" fill="#222" >R</text>
<text x="777.2" y="62.2" font-size="14.5" text-anchor="middle" fill="#222" >E</text>
<text x="364.3" y="276.9" font-size="14.5" text-anchor="middle" fill="#222" >D</text>
<text x="574.3" y="277.3" font-size="14.5" text-anchor="middle" fill="#222" >D</text>
<text x="504.9" y="327.5" font-size="14.5" text-anchor="middle" fill="#222" >O</text>
<text x="295.3" y="302" font-size="14.5" fill="#222">T</text><text x="303.9" y="303.7" font-size="12" fill="#222">2</text>
<text x="507.9" y="302.3" font-size="14.5" fill="#222">T</text><text x="515.2" y="304.2" font-size="12" fill="#222">1</text>
<text x="425.5" y="287.3" font-size="14.8" fill="#222">P</text><text x="435.3" y="289" font-size="12" fill="#222">2</text>
<text x="637.9" y="287.4" font-size="14.8" fill="#222">P</text><text x="646.4" y="289" font-size="12" fill="#222">1</text>
<path d="M418.90000000000003,290.6 H425.7 M422.3,286.9 V294.2" stroke="#222" stroke-width="1.1"/>
<path d="M628.6,290.6 H635.4 M632.0,286.9 V294.2" stroke="#222" stroke-width="1.1"/>
<path d="M443.8,292.8 H449.0" stroke="#222" stroke-width="1.8"/>
<path d="M654.0,292.8 H659.1999999999999" stroke="#222" stroke-width="1.8"/>
<rect x="114.2" y="324" width="14.6" height="16" fill="#fff"/>
<path d="M114.2,324 L116.8,326.7 L114.2,329.4 L116.8,332.1 L114.2,334.8 L116.8,337.5 L114.2,340.2 M128.8,324 L126.2,326.7 L128.8,329.4 L126.2,332.1 L128.8,334.8 L126.2,337.5 L128.8,340.2" fill="none" stroke="#111" stroke-width="1.1"/>
<path d="M119.5,324 V326.5 H123.4 V324" fill="none" stroke="#222" stroke-width="0.7"/>
<path d="M489.2,314.4 L491.7,317 V335.5 L489.2,338.2 H496 L493.6,335.5 V317 L496,314.4 Z" fill="#ffeb00" stroke="#1c1c1c" stroke-width="0.9"/>
<path d="M489.6,314.2 H495.6 L493.3,316.6 H491.9 Z" fill="#ea1f26"/>
<rect x="489.7" y="338" width="5.8" height="3" fill="#ffeb00"/>
<line x1="189" y1="209.5" x2="201.7" y2="209.5" stroke="#222" stroke-width="1.1"/>
<path d="M206.7,209.5 L198.7,207.3 L198.7,211.7 Z" fill="#111"/>
<line x1="293.8" y1="170.9" x2="306" y2="170.9" stroke="#5a0c0c" stroke-width="1.1"/>
<path d="M311,170.9 L303,168.70000000000002 L303,173.1 Z" fill="#111"/>
<line x1="79" y1="271.5" x2="91" y2="271.5" stroke="#222" stroke-width="1.1"/>
<path d="M96,271.5 L88,269.3 L88,273.7 Z" fill="#111"/>
<line x1="101.5" y1="367.9" x2="86.4" y2="367.9" stroke="#6b5e00" stroke-width="1.3"/>
<path d="M81.4,367.9 L89.4,365.7 L89.4,370.09999999999997 Z" fill="#111"/>
<line x1="327.7" y1="368" x2="312" y2="368" stroke="#8a7a00" stroke-width="1.3"/>
<path d="M307,368 L315,365.8 L315,370.2 Z" fill="#111"/>
<line x1="585.4" y1="367.8" x2="569.8" y2="367.8" stroke="#8a7a00" stroke-width="1.3"/>
<path d="M564.8,367.8 L572.8,365.6 L572.8,370.0 Z" fill="#111"/>
<rect x="752.1" y="70.5" width="16" height="19.3" fill="url(#grid)" stroke="#222" stroke-width="0.8"/>
<rect x="768.1" y="70" width="7.5" height="20.2" rx="1" fill="#fff" stroke="#222" stroke-width="1.1"/>
<path d="M788.2,70 L796.5,73.4 V86.8 L788.2,90.2 Z" fill="#fff" stroke="#222" stroke-width="1"/>
<rect x="777.3" y="68" width="10.9" height="24.3" rx="1.5" fill="#fff" stroke="#222" stroke-width="1.1"/>
<path d="M777.3,74.7 H788.2 M777.3,86.4 H788.2" stroke="#222" stroke-width="0.9"/>
<path d="M675.2,146.3 H687.4 L692.6,151.2 H701 L709.5,146.3 H740.8 V179.2 H677.6 Q679.5,168 677,160 Q675.5,152 675.2,146.3 Z" fill="url(#chk)"/>
<path d="M677.6,179.2 Q679.5,168 677,160 Q675.5,152 675.2,146.3 H687.4 L692.6,151.2 H701 L709.5,146.3 H740.8" fill="none" stroke="#222" stroke-width="0.9"/>
<path d="M677.6,201.2 H740.8 V233.7 H701 V229.4 H692.6 L687.9,233.7 H675.2 Q676,222 677.8,212 Q678.5,206 677.6,201.2 Z" fill="url(#chk)"/>
<path d="M675.2,233.7 H687.9 L692.6,229.4 H701 M708.7,233.7 H740.8 M675.2,233.7 Q676,222 677.8,212 Q678.5,206 677.6,201.2" fill="none" stroke="#222" stroke-width="0.9"/>
<rect x="702.5" y="158.8" width="29.3" height="20.4" fill="#fff" stroke="#222" stroke-width="0.9"/>
<path d="M702.5,158.8 L731.8,179.2 M731.8,158.8 L702.5,179.2" stroke="#222" stroke-width="0.8"/>
<rect x="702.5" y="201.2" width="29.3" height="18.8" fill="#fff" stroke="#222" stroke-width="0.9"/>
<path d="M702.5,201.2 L731.8,220 M731.8,201.2 L702.5,220" stroke="#222" stroke-width="0.8"/>
<rect x="732" y="157.5" width="4.8" height="21.7" fill="#fff" stroke="#222" stroke-width="0.7"/><rect x="732.3" y="157.8" width="4.2" height="7" fill="url(#grid)"/><rect x="736.8" y="157.5" width="3.8" height="21.7" fill="#fff" stroke="#222" stroke-width="0.7"/>
<rect x="732" y="201.2" width="4.8" height="21" fill="#fff" stroke="#222" stroke-width="0.7"/><rect x="732.3" y="214.5" width="4.2" height="7.5" fill="url(#grid)"/><rect x="736.8" y="201.2" width="3.8" height="19" fill="#fff" stroke="#222" stroke-width="0.7"/>
<path d="M677.6,179.2 H794.5 L798.7,181.3 V198.5 H768.5 L763.5,201.2 H677.6 Q679.5,190 677.6,179.2 Z" fill="#fff"/>
<path d="M677.6,179.2 H794.5 L798.7,181.3 V198.5 H768.5 L763.5,201.2 H677.6 M794.5,179.2 V198.5" fill="none" stroke="#222" stroke-width="1"/>
<rect x="702.5" y="220" width="6.2" height="22" fill="#2a2400"/><rect x="703.4" y="220.5" width="4.4" height="22" fill="#ffeb00"/>
<rect x="121.2" y="436.2" width="20.9" height="20.4" fill="#e2001a"/>
<rect x="375.1" y="436.2" width="20.8" height="20.4" fill="#6ab04c"/>
<rect x="623" y="436.2" width="21.1" height="20.4" fill="#ffe600"/>
<text x="150.3" y="456.6" font-size="17.2" fill="#222" textLength="68.3" lengthAdjust="spacingAndGlyphs">Pressure</text>
<text x="404.4" y="456.6" font-size="17.2" fill="#222" textLength="61.7" lengthAdjust="spacingAndGlyphs">Suction</text>
<text x="652.6" y="456.6" font-size="17.2" fill="#222" textLength="54.7" lengthAdjust="spacingAndGlyphs">Return</text>
<text transform="translate(790.2,396.2) rotate(-90)" font-size="7.2" fill="#333" textLength="36" lengthAdjust="spacingAndGlyphs">DANFOSS</text>
<text transform="translate(799.4,396.2) rotate(-90)" font-size="7.2" fill="#333" textLength="45.2" lengthAdjust="spacingAndGlyphs">70-803.12.14</text>
<circle cx="49.3" cy="411.4" r="0.8" fill="#444"/><circle cx="516.8" cy="100.1" r="0.8" fill="#444"/><circle cx="810.5" cy="9" r="0.6" fill="#666"/>
<rect x="10.5" y="5.45" width="839" height="469.75" fill="none" stroke="#1e1e1e" stroke-width="1.35"/>
</svg></body></html>
